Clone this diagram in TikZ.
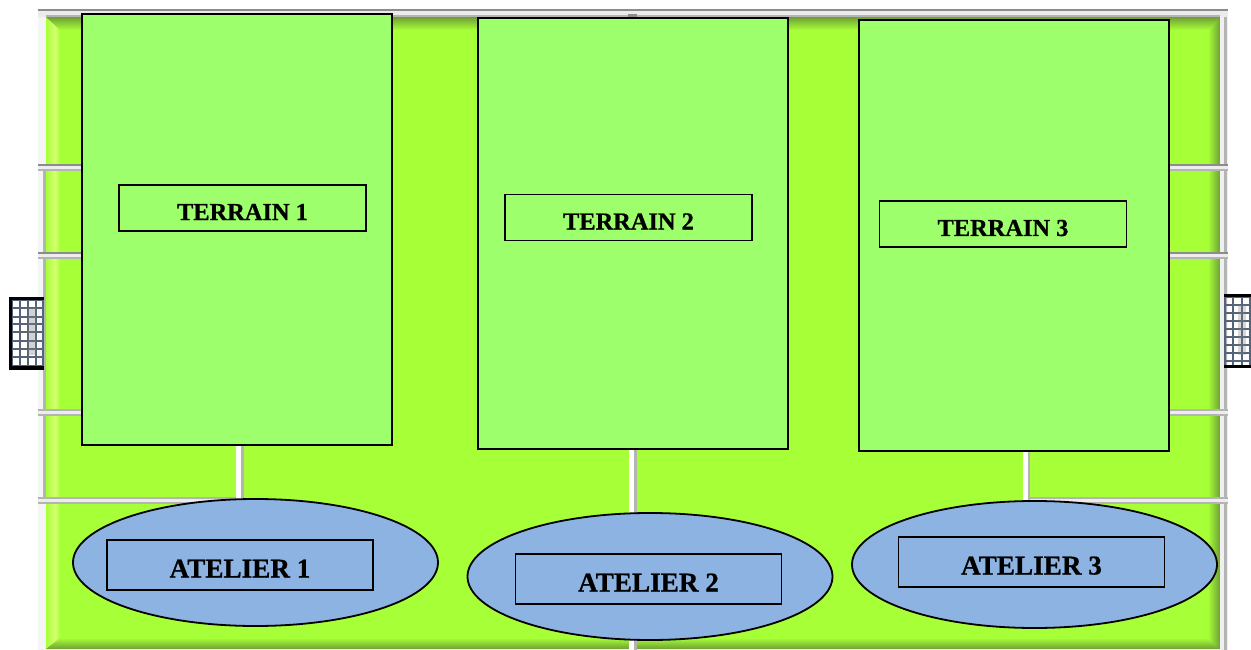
\documentclass[tikz,border=0pt]{standalone}
\usepackage{fontspec}
\setmainfont{Liberation Serif}[BoldFeatures={FakeBold=0.7}]
\definecolor{fieldc}{HTML}{A6FF37}
\definecolor{hic}{HTML}{D6FF70}
\definecolor{darkc}{HTML}{6F9F35}
\definecolor{terrainc}{HTML}{9CFF6B}
\definecolor{atelierc}{HTML}{8DB3E2}
\definecolor{gridc}{HTML}{55647A}
\definecolor{edgec}{HTML}{B4B4B4}
\definecolor{topc}{HTML}{8C8C8C}
\newcommand{\pitchline}[4][topc]{% x1 x2 y : white line with a top edge and a soft lower edge
  \fill[white!93!black] (#2,#4) rectangle (#3,#4+6);
  \fill[#1] (#2,#4) rectangle (#3,#4+1.6);
  \fill[edgec] (#2,#4+5.2) rectangle (#3,#4+6.6);
}
\newcommand{\linkfill}[3]{% from, to, width
  \fill[white] (#1) rectangle ($(#2)+(#3,0)$);
  \fill[edgec] ($(#1)+(5,0)$) rectangle ($(#2)+(#3,0)$);
}
\tikzset{
  terrainbox/.style={draw=black,line width=1.8pt,fill=terrainc,minimum width=310pt,minimum height=431pt,inner sep=0pt,outer sep=0pt},
  tlabel/.style={draw=black,line width=1.8pt,minimum width=247pt,minimum height=46pt,inner sep=0pt,outer sep=0pt,font=\bfseries\fontsize{24.4}{24.4}\selectfont,text height=24pt,text depth=0pt},
  atelier/.style={ellipse,draw=black,line width=1.8pt,fill=atelierc,minimum width=365pt,minimum height=127pt,inner sep=0pt,outer sep=0pt},
  alabel/.style={draw=black,line width=1.8pt,minimum width=266pt,minimum height=50pt,inner sep=0pt,outer sep=0pt,font=\bfseries\fontsize{27.2}{27.2}\selectfont,text height=25pt,text depth=0pt},
  goalbar/.style={fill=black},
  goalgrid/.style={draw=gridc,line width=1.6pt}
}
\usetikzlibrary{shapes.geometric,calc}
\pgfdeclarelayer{under}
\pgfsetlayers{under,main}
\begin{document}
\begin{tikzpicture}[x=1pt,y=-1pt]
\useasboundingbox (0,0) rectangle (1251,650);
% workshops and pitches
\node[terrainbox] (t1) at (237,229.5) {};
\node[terrainbox] (t2) at (633,233.5) {};
\node[terrainbox] (t3) at (1014,235.5) {};
\node[atelier] (e1) at (255.5,562.5) {};
\node[atelier] (e2) at (650,576.5) {};
\node[atelier] (e3) at (1034.5,564.5) {};
\node[tlabel] (n1) at (242.5,208) {TERRAIN 1};
\node[tlabel] (n2) at (628.5,217.5) {TERRAIN 2};
\node[tlabel] (n3) at (1003,224) {TERRAIN 3};
\node[alabel] (a1) at (240,565) {ATELIER 1};
\node[alabel] (a2) at (648.5,579) {ATELIER 2};
\node[alabel] (a3) at (1031.5,562) {ATELIER 3};
\begin{pgfonlayer}{under}
\fill[white] (0,0) rectangle (1251,650);
% pitch surface with bevel
\fill[fieldc] (46,17) rectangle (1220,648);
\shade[left color=fieldc,right color=hic] (46,17) rectangle (55,648);
\shade[left color=hic,right color=fieldc] (55,17) rectangle (60,648);
\shade[left color=fieldc,right color=darkc] (1208,17) rectangle (1220,648);
\begin{scope}
\clip (46,649) -- (1220,649) -- (1208,638) -- (60,638) -- cycle;
\shade[top color=fieldc,bottom color=darkc] (46,638) rectangle (1220,649);
\end{scope}
\begin{scope}
\clip (46,17) -- (1220,17) -- (1208,30) -- (60,30) -- cycle;
\shade[top color=darkc,bottom color=fieldc] (46,17) rectangle (1220,30);
\end{scope}
% pitch lines: frame
\fill[white!96!black] (38,10) rectangle (46,650);
\fill[white!94!black] (1220,10) rectangle (1228,650);
\fill[edgec] (1224,17) rectangle (1227,650);
\fill[edgec] (43,170) rectangle (46,497);
\fill[white!92!black] (38,11) rectangle (1228,17);
\fill[topc] (38,9) rectangle (1228,11.4);
\fill[edgec] (46,15.5) rectangle (1220,17.5);
\fill[topc] (628,14) rectangle (637,17);
% pitch lines: horizontals
\pitchline{38}{100}{164}
\pitchline{1150}{1228}{164}
\pitchline{38}{100}{252}
\pitchline{1150}{1228}{252}
\pitchline[edgec]{38}{100}{409}
\pitchline[edgec]{1150}{1228}{409}
\pitchline[edgec]{38}{240}{497}
\pitchline[edgec]{1027}{1228}{497}
% goals
\foreach \x in {12,20,28,36,43} \draw[goalgrid] (\x,298) -- (\x,368);
\foreach \y in {300,308,317,324,332,341,349,357,366} \draw[goalgrid] (11,\y) -- (44,\y);
\fill[gray,opacity=.35] (28,308) rectangle (36,355);
\fill[goalbar] (9,297) rectangle (44,300);
\fill[goalbar] (9,297) rectangle (12,369);
\fill[goalbar] (9,366) rectangle (44,370);
\foreach \x in {1225,1233,1242,1250} \draw[goalgrid] (\x,295) -- (\x,366);
\foreach \y in {297,305,313,321,329,337,345,353,361} \draw[goalgrid] (1224,\y) -- (1251,\y);
\fill[gray,opacity=.3] (1238,305) rectangle (1246,355);
\fill[goalbar] (1224,294) rectangle (1251,297);
\fill[goalbar] (1224,365) rectangle (1251,368);
% connecting lines
\coordinate (l1) at (236,0);
\coordinate (l2) at (629,0);
\coordinate (l3) at (1023,0);
\coordinate (b2) at (629,650);
\linkfill{t1.south -| l1}{e1.north -| l1}{8}
\linkfill{t2.south -| l2}{e2.north -| l2}{8}
\linkfill{e2.south -| l2}{b2}{8}
\linkfill{t3.south -| l3}{e3.north -| l3}{7}
\end{pgfonlayer}
\end{tikzpicture}
\end{document}
